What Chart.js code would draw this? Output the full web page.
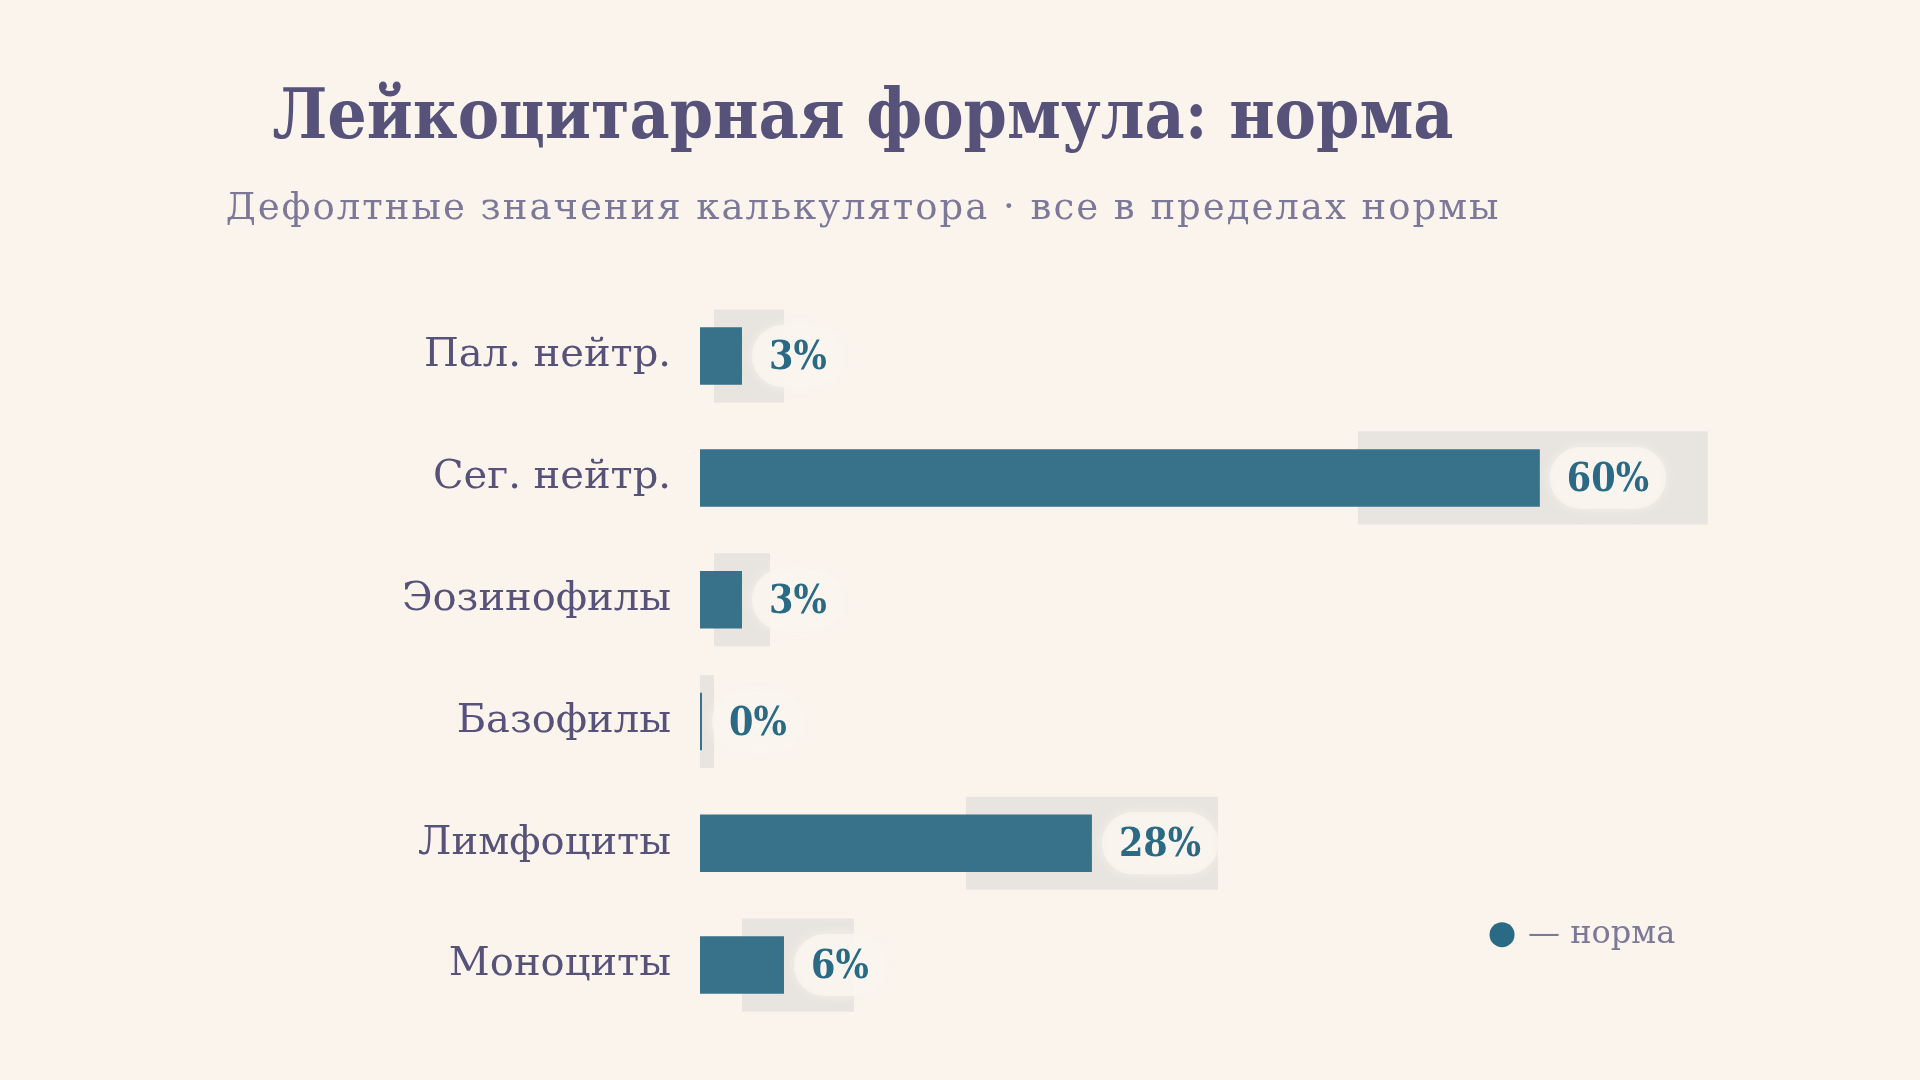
<!DOCTYPE html>
<html lang="ru">
<head>
<meta charset="utf-8">
<title>Лейкоцитарная формула</title>
<script src="https://cdn.jsdelivr.net/npm/chart.js@4.4.1/dist/chart.umd.min.js"></script>
<style>
  html, body { margin: 0; padding: 0; background: #faf4ed; }
  #chart { display: block; }
</style>
</head>
<body>
<canvas id="chart" width="1920" height="1080"></canvas>
<script>
const categories = ['Пал. нейтр.', 'Сег. нейтр.', 'Эозинофилы', 'Базофилы', 'Лимфоциты', 'Моноциты'];
const values = [3, 60, 3, 0, 28, 6];
const normMin = [1, 47, 1, 0, 19, 3];
const normMax = [6, 72, 5, 1, 37, 11];
const xMax = 73.3;

const titleText = 'Лейкоцитарная формула: норма';
const subtitleText = 'Дефолтные значения калькулятора · все в пределах нормы';
const legendText = '— норма';

const SERIF_C = "'DejaVu Serif Condensed', 'DejaVu Serif', serif";
const SERIF = "'DejaVu Serif', serif";
const BAR = '#38718a';
const BAND = '#e8e4df';
const VALUE_COLOR = '#2a6a85';
const TEXT = '#56527a';
const MUTED = '#7c7898';

// spread the subtitle letters a little, like the original
const spacedSubtitle = {
  id: 'spacedSubtitle',
  afterLayout(chart) {
    chart.boxes.forEach(b => {
      if (b.options && b.options.text === subtitleText && !b._spaced) {
        const orig = b.draw.bind(b);
        b.draw = (area) => {
          chart.ctx.save();
          chart.ctx.letterSpacing = '2px';
          orig(area);
          chart.ctx.restore();
        };
        b._spaced = true;
      }
    });
  }
};

// value labels in soft pills next to each bar
const valueLabels = {
  id: 'valueLabels',
  afterDatasetsDraw(chart) {
    const ctx = chart.ctx;
    const meta = chart.getDatasetMeta(1);
    ctx.save();
    ctx.font = 'bold 39px ' + SERIF_C;
    ctx.textBaseline = 'middle';
    ctx.textAlign = 'left';
    meta.data.forEach((bar, i) => {
      const txt = values[i] + '%';
      const x = bar.x + 27;
      const w = ctx.measureText(txt).width;
      ctx.save();
      ctx.fillStyle = 'rgba(250, 245, 239, 0.85)';
      ctx.shadowColor = 'rgba(250, 245, 239, 0.9)';
      ctx.shadowBlur = 12;
      ctx.beginPath();
      ctx.roundRect(x - 17, bar.y - 31, w + 34, 62, 31);
      ctx.fill();
      ctx.restore();
      ctx.fillStyle = VALUE_COLOR;
      ctx.fillText(txt, x, bar.y + 3);
    });
    ctx.restore();
  }
};

// small key in the lower right corner
const normKey = {
  id: 'normKey',
  afterDraw(chart) {
    const ctx = chart.ctx;
    const x = chart.scales.x.getPixelForValue(57.3);
    const y = chart.scales.y.getPixelForValue(4.75);
    ctx.save();
    ctx.fillStyle = VALUE_COLOR;
    ctx.beginPath();
    ctx.arc(x, y, 12.5, 0, Math.PI * 2);
    ctx.fill();
    ctx.font = '32px ' + SERIF;
    ctx.fillStyle = MUTED;
    ctx.textBaseline = 'middle';
    ctx.fillText(legendText, x + 26, y);
    ctx.restore();
  }
};

new Chart(document.getElementById('chart'), {
  type: 'bar',
  data: {
    labels: categories,
    datasets: [
      {
        label: 'норма',
        data: normMin.map((m, i) => [m, normMax[i]]),
        backgroundColor: BAND,
        barPercentage: 0.764,
        categoryPercentage: 1,
        grouped: false,
        order: 2
      },
      {
        label: 'значение',
        data: values,
        backgroundColor: BAR,
        barPercentage: 0.472,
        categoryPercentage: 1,
        grouped: false,
        minBarLength: 2,
        order: 1
      }
    ]
  },
  options: {
    indexAxis: 'y',
    responsive: false,
    devicePixelRatio: 1,
    animation: false,
    layout: { padding: { left: 0, right: 194, top: 0, bottom: 54 } },
    plugins: {
      legend: { display: false },
      tooltip: { enabled: false },
      title: {
        display: true,
        text: titleText,
        color: TEXT,
        font: { family: SERIF_C, size: 69, weight: 'bold' },
        padding: { top: 79, bottom: 25 }
      },
      subtitle: {
        display: true,
        text: subtitleText,
        color: MUTED,
        font: { family: SERIF, size: 37 },
        padding: { top: 0, bottom: 64 }
      }
    },
    scales: {
      x: { display: false, min: 0, max: xMax },
      y: {
        afterFit(scale) { scale.width = 700; },
        grid: { display: false, drawTicks: false },
        border: { display: false },
        ticks: {
          color: TEXT,
          padding: 29,
          font: { family: SERIF, size: 40 }
        }
      }
    }
  },
  plugins: [spacedSubtitle, valueLabels, normKey]
});
</script>
</body>
</html>
